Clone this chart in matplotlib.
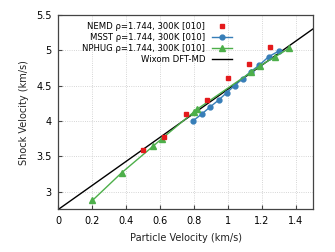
import matplotlib
matplotlib.use("Agg")
import matplotlib.pyplot as plt
import numpy as np

nemd_up = [0.50, 0.625, 0.75, 0.875, 1.00, 1.125, 1.25]
nemd_us = [3.59, 3.78, 4.10, 4.30, 4.61, 4.80, 5.04]

msst_up = [0.792, 0.845, 0.894, 0.945, 0.992, 1.039, 1.086, 1.135, 1.185, 1.24, 1.30]
msst_us = [3.998, 4.098, 4.197, 4.296, 4.40, 4.50, 4.598, 4.70, 4.79, 4.91, 4.99]

nphug_up = [0.20, 0.372, 0.559, 0.61, 0.80, 0.82, 1.136, 1.189, 1.279, 1.362]
nphug_us = [2.875, 3.266, 3.645, 3.75, 4.13, 4.17, 4.69, 4.78, 4.91, 5.03]

wixom_c0 = 2.75
wixom_s = 1.70

labels = ["NEMD ρ=1.744, 300K [010]", "MSST ρ=1.744, 300K [010]",
          "NPHUG ρ=1.744, 300K [010]", "Wixom DFT-MD"]

fig = plt.figure(figsize=(3.35, 2.52), dpi=100)
ax = fig.add_axes([0.1746, 0.1694, 0.9334 - 0.1746, 0.9405 - 0.1694])

ax.plot(nemd_up, nemd_us, 's', color='#e41a1c', ms=3.5, ls='none', label=labels[0], zorder=4)
ax.plot(msst_up, msst_us, '-o', color='#377eb8', ms=3.5, lw=1, label=labels[1], zorder=3)
ax.plot(nphug_up, nphug_us, '-^', color='#4daf4a', ms=3.8, lw=1, label=labels[2], zorder=3)
xl = np.array([0.0, 1.5])
ax.plot(xl, wixom_c0 + wixom_s * xl, '-', color='black', lw=1, label=labels[3], zorder=2)

ax.set_xlim(0, 1.5)
ax.set_ylim(2.75, 5.5)
ax.set_xticks([0, 0.2, 0.4, 0.6, 0.8, 1.0, 1.2, 1.4])
ax.set_xticklabels(["0", "0.2", "0.4", "0.6", "0.8", "1", "1.2", "1.4"])
ax.set_yticks([3, 3.5, 4, 4.5, 5, 5.5])
ax.set_yticklabels(["3", "3.5", "4", "4.5", "5", "5.5"])
ax.tick_params(direction='in', labelsize=7, length=3, color='#444444', pad=5)
ax.grid(True, ls=':', color='#c8c8c8', lw=0.6)
for s in ax.spines.values():
    s.set_color('#444444')
    s.set_linewidth(0.9)

ax.set_xlabel("Particle Velocity (km/s)", fontsize=7, color='#222222', labelpad=5)
ax.set_ylabel("Shock Velocity (km/s)", fontsize=7, color='#222222', labelpad=5)

leg = ax.legend(loc='upper left', fontsize=6.1, frameon=False, markerfirst=False,
                handlelength=2.4, labelspacing=0.25, borderaxespad=0.3,
                handletextpad=0.8, bbox_to_anchor=(0.07, 0.995))
for t in leg.get_texts():
    t.set_ha('right')
leg._legend_box.align = "right"

fig.savefig("out.png", dpi=100)
